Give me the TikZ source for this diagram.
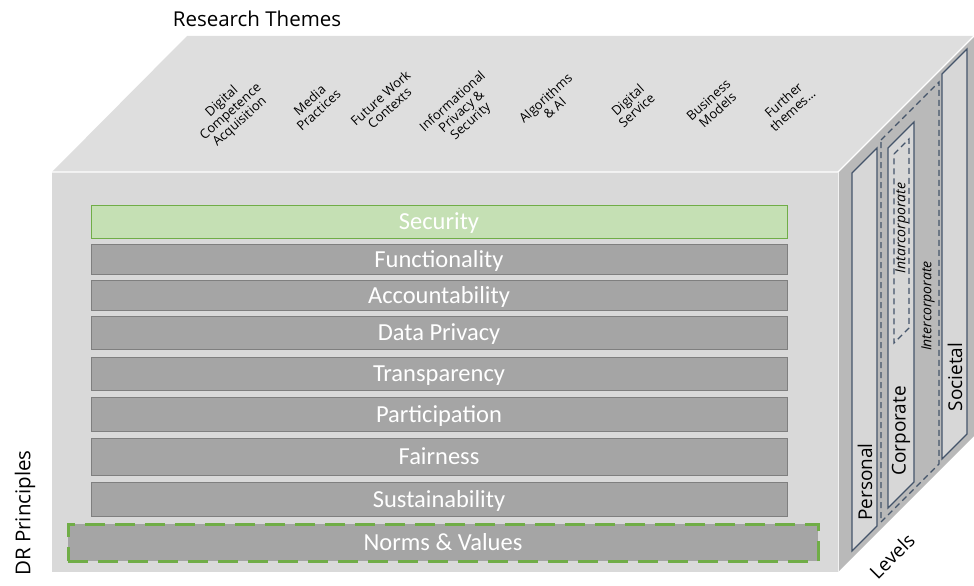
\documentclass[tikz,border=0pt]{standalone}
\usepackage{fontspec}
\setmainfont{Open Sans}
\newfontfamily\barfont{Carlito}
\definecolor{topface}{HTML}{DEDEDE}
\definecolor{frontface}{HTML}{D9D9D9}
\definecolor{sideface}{HTML}{B9B9B9}
\definecolor{stripfill}{HTML}{D7D7D7}
\definecolor{navy}{HTML}{44546A}
\definecolor{barfill}{HTML}{A5A5A5}
\definecolor{barline}{HTML}{7F7F7F}
\definecolor{greenfill}{HTML}{C5E0B4}
\definecolor{greenline}{HTML}{70AD47}
\begin{document}
\begin{tikzpicture}[x=1pt,y=-1pt,
  bar/.style={draw=barline, fill=barfill, line width=1pt, minimum width=696pt,
    inner sep=0pt, text height=19pt, text depth=3pt, text=white,
    font=\barfont\fontsize{24.5}{25}\selectfont},
  greenbar/.style={bar, draw=greenline, fill=greenfill},
  normsbar/.style={bar, draw=greenline, line width=3pt, minimum width=750pt,
    dash pattern=on 20pt off 10pt},
  theme/.style={rotate=42, align=center, font=\fontsize{13}{13.5}\selectfont,
    inner sep=0pt, text=black},
  strip/.style={draw=navy, fill=stripfill, line width=1.2pt},
  dstrip/.style={draw=navy, line width=1.2pt, dash pattern=on 6pt off 4pt},
  levellabel/.style={rotate=90, font=\fontsize{19}{20}\selectfont, inner sep=0pt},
  subllabel/.style={rotate=90, font=\itshape\fontsize{14}{15}\selectfont, inner sep=0pt},
  caption/.style={font=\fontsize{20.5}{22}\selectfont, inner sep=0pt}
]
\useasboundingbox (0,0) rectangle (974,586);

% the three visible faces of the cube
\fill[topface] (52,172) -- (187,36) -- (974,36) -- (838,172) -- cycle;
\fill[sideface] (838,172) -- (974,36) -- (974,436) -- (838,572) -- cycle;
\fill[frontface] (52,172) rectangle (838,572);
\draw[white, line width=1.2pt] (52,172) -- (838,172) -- (974,36);
\draw[white!90!gray, line width=0.8pt] (838,172) -- (838,572);

% level strips on the side face
\draw[strip] (852,173) -- (877,148) -- (877,526) -- (852,551) -- cycle;
\draw[dstrip] (881,140) -- (939,82) -- (939,464) -- (881,522) -- cycle;
\draw[strip] (888,148) -- (914,122) -- (914,482) -- (888,508) -- cycle;
\draw[dstrip] (894,154) -- (909,139) -- (909,328) -- (894,343) -- cycle;
\draw[strip] (942,74) -- (967,49) -- (967,434) -- (942,459) -- cycle;

\node[levellabel] (personal) at (865,482) {Personal};
\node[levellabel] (corporate) at (901,431) {Corporate};
\node[levellabel] (societal) at (955,377) {Societal};
\node[subllabel] (inter) at (928,306) {Intercorporate};
\node[subllabel] (intar) at (902,228) {Intarcorporate};
\node[caption, rotate=45, font=\fontsize{19}{20}\selectfont] (levels) at (892,556) {Levels};

% principle bars on the front face
\node[greenbar, minimum height=33pt] (security) at (439,221.5) {Security};
\node[bar, minimum height=30pt] (functionality) at (439,259) {Functionality};
\node[bar, minimum height=30pt] (accountability) at (439,295) {Accountability};
\node[bar, minimum height=33pt] (privacy) at (439,332.5) {Data Privacy};
\node[bar, minimum height=33pt] (transparency) at (439,373.5) {Transparency};
\node[bar, minimum height=34pt] (participation) at (439,414) {Participation};
\node[bar, minimum height=37pt] (fairness) at (439,456.5) {Fairness};
\node[bar, minimum height=34pt] (sustainability) at (439,499) {Sustainability};
\node[normsbar, minimum height=37pt] (norms) at (443,542.5) {Norms \& Values};

% research themes on the top face
\node[theme] (t1) at (231,112) {Digital\\Competence\\Acquisition};
\node[theme] (t2) at (314,105) {Media\\Practices};
\node[theme] (t3) at (385,103) {Future Work\\Contexts};
\node[theme] (t4) at (462,112) {Informational\\Privacy \&\\Security};
\node[theme] (t5) at (550,103) {Algorithms\\\& AI};
\node[theme] (t6) at (632,105) {Digital\\Service};
\node[theme] (t7) at (713,105) {Business\\Models};
\node[theme] (t8) at (788,105) {Further\\themes...};

% axis captions
\node[caption] (rt) at (257,19) {Research Themes};
\node[caption, rotate=90] (dr) at (25,513) {DR Principles};
\end{tikzpicture}
\end{document}
